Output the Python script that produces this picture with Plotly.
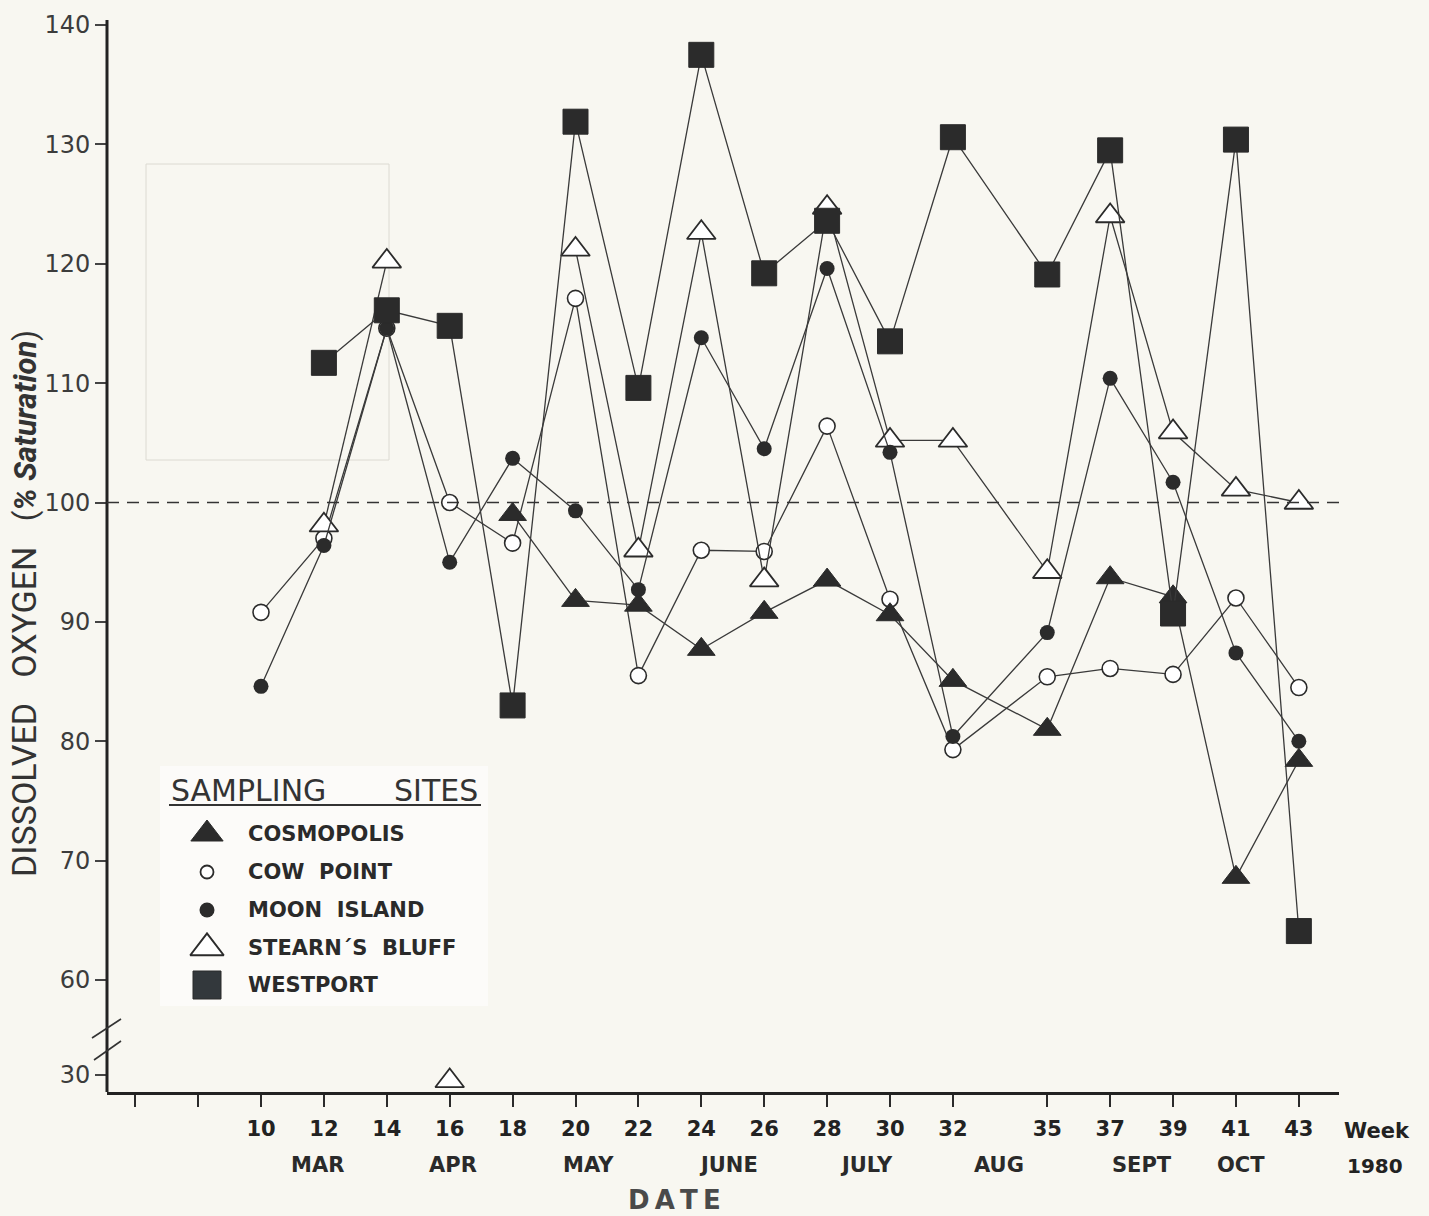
import plotly.graph_objects as go

# Sampling weeks (1980) and dissolved-oxygen readings (% saturation) per site
weeks = [10, 12, 14, 16, 18, 20, 22, 24, 26, 28, 30, 32, 35, 37, 39, 41, 43]
cosmopolis = [None, None, None, None, 99.0, 91.8, 91.4, 87.7, 90.8, 93.5, 90.6, 85.1, 81.0, 93.7, 92.1, 68.6, 78.4]
cow_point = [90.8, 97.0, 114.6, 100.0, 96.6, 117.1, 85.5, 96.0, 95.9, 106.4, 91.9, 79.3, 85.4, 86.1, 85.6, 92.0, 84.5]
moon_island = [84.6, 96.4, 114.6, 95.0, 103.7, 99.3, 92.7, 113.8, 104.5, 119.6, 104.2, 80.4, 89.1, 110.4, 101.7, 87.4, 80.0]
stearns_bluff = [None, 98.1, 120.2, 29.5, None, 121.2, 96.0, 122.6, 93.5, 124.7, 105.2, 105.2, 94.2, 124.0, 105.9, 101.1, 100.0]
westport = [None, 111.7, 116.1, 114.8, 83.0, 131.9, 109.6, 137.5, 119.2, 123.6, 113.5, 130.6, 119.1, 129.5, 90.7, 130.4, 64.1]

# Axis ticks
x_tickvals = [6, 8] + weeks
x_ticktext = ["", ""] + [str(w) for w in weeks]
y_main_ticks = [60, 70, 80, 90, 100, 110, 120, 130, 140]
y_low_ticks = [30]
saturation_line = 100
break_value = 50  # readings below this go on the lower (broken) axis segment

# Month labels placed along the week axis
months = ["MAR", "APR", "MAY", "JUNE", "JULY", "AUG", "SEPT", "OCT"]
month_weeks = [11.8, 16.1, 20.4, 24.85, 29.25, 33.45, 38.0, 41.15]

site_names = ["COSMOPOLIS", "COW\u00a0\u00a0POINT", "MOON\u00a0\u00a0ISLAND", "STEARN\u00b4S\u00a0\u00a0BLUFF", "WESTPORT"]

# ---- page geometry ----
W_FIG, H_FIG = 1429, 1216
L, R, T, B = 107, 1339, 20, 1092
PW, PH = R - L, B - T


def px_x(px):
    return (px - L) / PW


def px_y(py):
    return (B - py) / PH


INK = "#2b2b2b"
LINE = "#3a3a3a"


def split(vals):
    upper = [v if (v is not None and v >= break_value) else None for v in vals]
    lower = [v if (v is not None and v < break_value) else None for v in vals]
    return upper, lower


fig = go.Figure()

series = [
    ("COW POINT", cow_point, dict(symbol="circle", size=16, color="white", line=dict(color=INK, width=1.6))),
    ("STEARN'S BLUFF", stearns_bluff, dict(symbol="triangle-up", size=25, color="white", line=dict(color=INK, width=1.8))),
    ("MOON ISLAND", moon_island, dict(symbol="circle", size=15, color=INK, line=dict(color=INK, width=0))),
    ("COSMOPOLIS", cosmopolis, dict(symbol="triangle-up", size=24, color=INK, line=dict(color=INK, width=1))),
    ("WESTPORT", westport, dict(symbol="square", size=25, color=INK, line=dict(color=INK, width=1))),
]

for name, vals, mk in series:
    upper, lower = split(vals)
    fig.add_trace(go.Scatter(
        x=weeks, y=upper, name=name, mode="lines+markers",
        line=dict(color=LINE, width=1.3), marker=dict(mk, opacity=1),
        connectgaps=False, cliponaxis=False, showlegend=False,
        xaxis="x", yaxis="y",
    ))
    if any(v is not None for v in lower):
        fig.add_trace(go.Scatter(
            x=weeks, y=lower, name=name, mode="markers", marker=dict(mk, opacity=1),
            cliponaxis=False, showlegend=False, xaxis="x", yaxis="y2",
        ))

# Scale: 11.94 px per % saturation on both segments
ppu = 11.94
main_bottom_px, low_top_px = 1017, 1062
y_main_range = [60 - (main_bottom_px - 980) / ppu, 140 + (25 - T) / ppu]
y_low_range = [30 - (B - 1075) / ppu, 30 + (1075 - low_top_px) / ppu]
x_range = [10 - (261 - L) / 31.45, 10 + (R - 261) / 31.45]

# Legend key symbols, on a pixel-space overlay axis
leg_rows = [834, 872, 910, 948, 985]
fig.add_trace(go.Scatter(
    x=[207] * 5, y=leg_rows, mode="markers",
    marker=dict(
        symbol=["triangle-up", "circle", "circle", "triangle-up", "square"],
        size=[28, 13, 15, 29, 28],
        color=[INK, "white", INK, "white", "#33383c"],
        line=dict(color=INK, width=[1, 1.8, 0, 2, 1]),
        opacity=1,
    ),
    showlegend=False, hoverinfo="skip", xaxis="x3", yaxis="y3", cliponaxis=False,
))

tick_font = dict(family="DejaVu Sans", size=24, color="#3c3c3c")

fig.update_layout(
    width=W_FIG, height=H_FIG,
    margin=dict(l=L, r=W_FIG - R, t=T, b=H_FIG - B),
    paper_bgcolor="#f8f7f1", plot_bgcolor="rgba(0,0,0,0)",
    showlegend=False,
    xaxis=dict(
        range=x_range, tickmode="array", tickvals=x_tickvals, ticktext=x_ticktext,
        ticks="outside", ticklen=12, tickwidth=2, tickcolor=INK,
        showline=True, linecolor="#222", linewidth=3, showgrid=False, zeroline=False,
        tickfont=dict(family="DejaVu Sans", size=21, color="#222", weight="bold"),
        anchor="y2", ticklabelstandoff=4,
    ),
    yaxis=dict(
        domain=[px_y(main_bottom_px), 1], range=y_main_range,
        tickmode="array", tickvals=y_main_ticks, ticks="outside", ticklen=11,
        tickwidth=1.6, tickcolor="#444", showline=False, showgrid=False, zeroline=False,
        tickfont=tick_font, anchor="x",
    ),
    yaxis2=dict(
        domain=[0, px_y(low_top_px)], range=y_low_range,
        tickmode="array", tickvals=y_low_ticks, ticks="outside", ticklen=11,
        tickwidth=1.6, tickcolor="#444", showline=False, showgrid=False, zeroline=False,
        tickfont=tick_font, anchor="x",
    ),
    # overlay follows the main axes' domains, so its ranges are their pixel extents
    xaxis3=dict(range=[L, R], visible=False, overlaying="x", anchor="y3"),
    yaxis3=dict(range=[main_bottom_px, T], visible=False, overlaying="y", anchor="x3"),
)

shapes = []
# vertical axis line through the break
shapes.append(dict(type="line", xref="paper", yref="paper", x0=0, x1=0, y0=0, y1=1,
                   line=dict(color="#222", width=3)))
# break marks
for (xa, ya, xb, yb) in [(92, 1038, 121, 1019), (94, 1060, 121, 1041)]:
    shapes.append(dict(type="line", xref="paper", yref="paper",
                       x0=px_x(xa), y0=px_y(ya), x1=px_x(xb), y1=px_y(yb),
                       line=dict(color="#333", width=1.6)))
# 100 % saturation reference
shapes.append(dict(type="line", xref="x", yref="y", x0=x_range[0], x1=x_range[1] + 0.5,
                   y0=saturation_line, y1=saturation_line,
                   line=dict(color="#333", width=1.5, dash="12px,8px")))
# paste-up panel outline
shapes.append(dict(type="rect", xref="paper", yref="paper",
                   x0=px_x(146), x1=px_x(389), y0=px_y(460), y1=px_y(164),
                   line=dict(color="#dcdad2", width=1), layer="below"))
# legend panel
shapes.append(dict(type="rect", xref="paper", yref="paper",
                   x0=px_x(160), x1=px_x(488), y0=px_y(1006), y1=px_y(766),
                   fillcolor="rgba(255,255,255,0.55)", line=dict(width=0), layer="below"))
shapes.append(dict(type="line", xref="paper", yref="paper",
                   x0=px_x(169), x1=px_x(481), y0=px_y(805), y1=px_y(805),
                   line=dict(color="#333", width=2)))

annotations = []
# y-axis title
annotations.append(dict(
    xref="paper", yref="paper", x=px_x(24), y=px_y(604), textangle=-90,
    showarrow=False, xanchor="center", yanchor="middle",
    text=("DISSOLVED\u00a0\u00a0\u00a0OXYGEN\u00a0\u00a0\u00a0"
          "<span style='font-size:31px'>(<i><b>%\u00a0Saturation</b></i>)</span>"),
    font=dict(family="Roboto", size=34, color="#333"),
))
# month labels
for m, wk in zip(months, month_weeks):
    annotations.append(dict(xref="x", yref="paper", x=wk, y=px_y(1165), text=m,
                            showarrow=False, xanchor="center", yanchor="middle",
                            font=dict(family="DejaVu Sans", size=21, color="#2a2a2a", weight="bold")))
annotations.append(dict(xref="paper", yref="paper", x=px_x(1377), y=px_y(1131), text="Week",
                        showarrow=False, xanchor="center", yanchor="middle",
                        font=dict(family="DejaVu Sans", size=21, color="#222", weight="bold")))
annotations.append(dict(xref="paper", yref="paper", x=px_x(1375), y=px_y(1166), text="1980",
                        showarrow=False, xanchor="center", yanchor="middle",
                        font=dict(family="DejaVu Sans", size=20, color="#222", weight="bold")))
annotations.append(dict(xref="paper", yref="paper", x=px_x(674), y=px_y(1200),
                        text="D\u2009A\u2009T\u2009E", showarrow=False, xanchor="center", yanchor="middle",
                        font=dict(family="DejaVu Sans", size=26, color="#4a4a4a", weight="bold")))
# legend text
annotations.append(dict(xref="paper", yref="paper", x=px_x(169), y=px_y(790), text="SAMPLING",
                        showarrow=False, xanchor="left", yanchor="middle",
                        font=dict(family="DejaVu Sans", size=30, color="#333")))
annotations.append(dict(xref="paper", yref="paper", x=px_x(480), y=px_y(790), text="SITES",
                        showarrow=False, xanchor="right", yanchor="middle",
                        font=dict(family="DejaVu Sans", size=30, color="#333")))
for nm, ry in zip(site_names, leg_rows):
    annotations.append(dict(xref="paper", yref="paper", x=px_x(246), y=px_y(ry), text=nm,
                            showarrow=False, xanchor="left", yanchor="middle",
                            font=dict(family="DejaVu Sans", size=21, color="#2a2a2a", weight="bold")))

fig.update_layout(shapes=shapes, annotations=annotations)

fig.write_html("out.html")
